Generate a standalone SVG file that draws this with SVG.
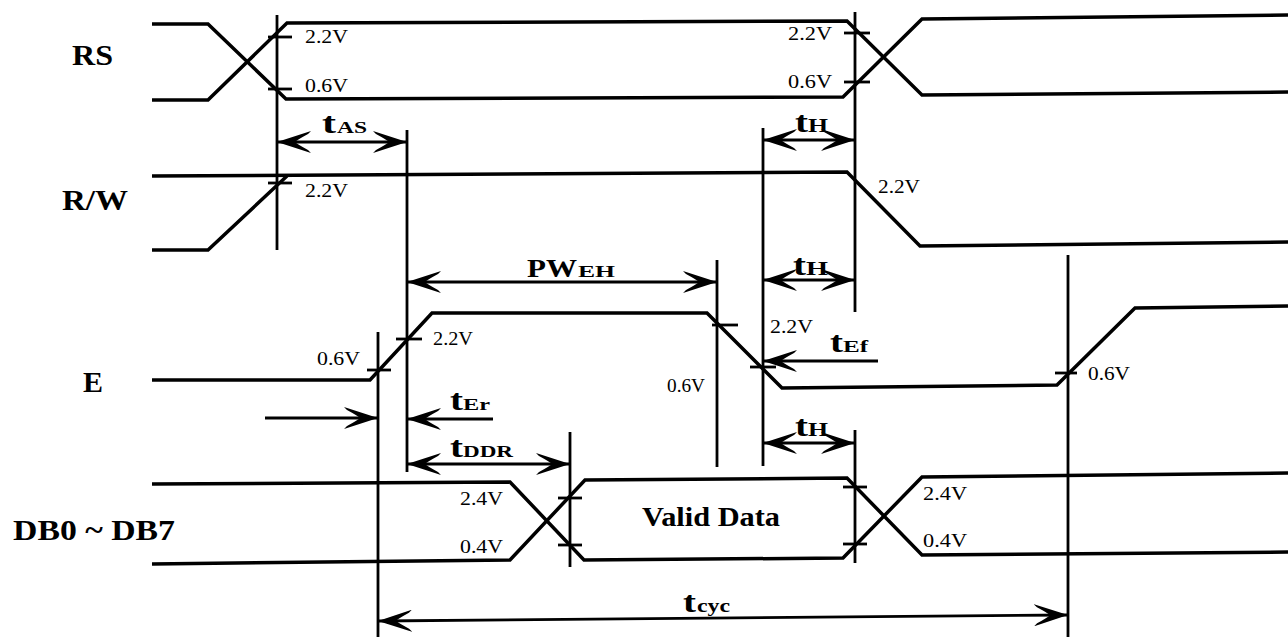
<svg xmlns="http://www.w3.org/2000/svg" width="1288" height="637" viewBox="0 0 1288 637">
<style>
.sig{fill:none;stroke:#000;stroke-width:3.5;stroke-linejoin:miter}
.vl{stroke:#000;stroke-width:2.8;fill:none}
.tk{stroke:#000;stroke-width:2.8}
.ar{stroke:#000;stroke-width:2.8;fill:none}
.lbl{font-family:"Liberation Serif","Times New Roman",serif;font-weight:bold;font-size:29px;fill:#000}
.v{font-family:"Liberation Serif","Times New Roman",serif;font-size:19px;fill:#000}
.tt{font-family:"Liberation Serif","Times New Roman",serif;font-weight:bold;font-size:30px;fill:#000}
.ts{font-family:"Liberation Serif","Times New Roman",serif;font-weight:bold;font-size:16px;fill:#000}
</style>
<defs>
<marker id="ah" viewBox="0 0 34 22" refX="34" refY="11" markerWidth="34" markerHeight="22" markerUnits="userSpaceOnUse" orient="auto-start-reverse">
<path d="M34,11 L0,0 L3,3 Q14,9 16,11 Q14,13 3,19 L0,22 Z" fill="#000"/>
</marker>
</defs>
<rect width="1288" height="637" fill="#fff"/>

<g id="RS">
<text class="lbl" x="72" y="65" textLength="41" lengthAdjust="spacingAndGlyphs">RS</text>
<polyline class="sig" points="152,24 208,24 286,99 843,97 922,19 1288,15"/>
<polyline class="sig" points="152,100 208,100 287,23 847,21 922,95 1288,92"/>
<line class="tk" x1="268" y1="37" x2="292" y2="37"/>
<line class="tk" x1="268" y1="89" x2="292" y2="89"/>
<line class="tk" x1="844" y1="33" x2="870" y2="33"/>
<line class="tk" x1="844" y1="82" x2="870" y2="82"/>
<text class="v" x="305" y="43" textLength="43" lengthAdjust="spacingAndGlyphs">2.2V</text>
<text class="v" x="305" y="92" textLength="43" lengthAdjust="spacingAndGlyphs">0.6V</text>
<text class="v" x="788" y="40" textLength="44" lengthAdjust="spacingAndGlyphs">2.2V</text>
<text class="v" x="788" y="88" textLength="44" lengthAdjust="spacingAndGlyphs">0.6V</text>
</g>

<g id="RW">
<text class="lbl" x="62" y="210" textLength="66" lengthAdjust="spacingAndGlyphs">R/W</text>
<polyline class="sig" points="152,176 847,172 920,246 1288,242"/>
<polyline class="sig" points="152,250 208,250 287,176"/>
<line class="tk" x1="268" y1="183" x2="292" y2="183"/>
<text class="v" x="305" y="197" textLength="43" lengthAdjust="spacingAndGlyphs">2.2V</text>
<text class="v" x="878" y="193" textLength="42" lengthAdjust="spacingAndGlyphs">2.2V</text>
</g>

<g id="E">
<text class="lbl" x="83" y="392" textLength="20" lengthAdjust="spacingAndGlyphs">E</text>
<polyline class="sig" points="152,380 370,380 432,313 707,313 782,388 1057,385 1135,308 1288,306"/>
<line class="tk" x1="367" y1="370" x2="391" y2="370"/>
<line class="tk" x1="396" y1="339" x2="422" y2="339"/>
<line class="tk" x1="712" y1="325" x2="738" y2="325"/>
<line class="tk" x1="750" y1="367" x2="776" y2="367"/>
<line class="tk" x1="1055" y1="373" x2="1077" y2="373"/>
<text class="v" x="317" y="365" textLength="43" lengthAdjust="spacingAndGlyphs">0.6V</text>
<text class="v" x="433" y="345" textLength="40" lengthAdjust="spacingAndGlyphs">2.2V</text>
<text class="v" x="770" y="333" textLength="43" lengthAdjust="spacingAndGlyphs">2.2V</text>
<text class="v" x="667" y="392" textLength="38" lengthAdjust="spacingAndGlyphs">0.6V</text>
<text class="v" x="1088" y="380" textLength="42" lengthAdjust="spacingAndGlyphs">0.6V</text>
</g>

<g id="DB">
<text class="lbl" x="13" y="540" textLength="162" lengthAdjust="spacingAndGlyphs">DB0 ~ DB7</text>
<polyline class="sig" points="152,484 510,482 584,560 843,558 922,477 1288,473"/>
<polyline class="sig" points="152,564 510,560 585,480 847,478 922,555 1288,552"/>
<line class="tk" x1="558" y1="498" x2="582" y2="498"/>
<line class="tk" x1="558" y1="545" x2="582" y2="545"/>
<line class="tk" x1="843" y1="487" x2="867" y2="487"/>
<line class="tk" x1="843" y1="544" x2="867" y2="544"/>
<text class="v" x="460" y="505" textLength="43" lengthAdjust="spacingAndGlyphs">2.4V</text>
<text class="v" x="460" y="553" textLength="43" lengthAdjust="spacingAndGlyphs">0.4V</text>
<text class="v" x="923" y="500" textLength="44" lengthAdjust="spacingAndGlyphs">2.4V</text>
<text class="v" x="923" y="547" textLength="44" lengthAdjust="spacingAndGlyphs">0.4V</text>
<text class="lbl" x="642" y="526" style="font-size:27px" textLength="138" lengthAdjust="spacingAndGlyphs">Valid Data</text>
</g>

<g id="connectors">
<line class="vl" x1="277" y1="15" x2="277" y2="250"/>
<line class="vl" x1="407" y1="130" x2="407" y2="472"/>
<line class="vl" x1="763" y1="128" x2="763" y2="466"/>
<line class="vl" x1="855" y1="12" x2="855" y2="312"/>
<line class="vl" x1="855" y1="430" x2="855" y2="563"/>
<line class="vl" x1="717" y1="260" x2="717" y2="467"/>
<line class="vl" x1="378" y1="332" x2="378" y2="637"/>
<line class="vl" x1="570" y1="432" x2="570" y2="567"/>
<line class="vl" x1="1068" y1="255" x2="1068" y2="637"/>

<line class="ar" x1="277" y1="142" x2="407" y2="142" marker-start="url(#ah)" marker-end="url(#ah)"/>
<line class="ar" x1="763" y1="140" x2="855" y2="140" marker-start="url(#ah)" marker-end="url(#ah)"/>
<line class="ar" x1="407" y1="282" x2="717" y2="282" marker-start="url(#ah)" marker-end="url(#ah)"/>
<line class="ar" x1="763" y1="280" x2="855" y2="280" marker-start="url(#ah)" marker-end="url(#ah)"/>
<line class="ar" x1="878" y1="361" x2="763" y2="361" marker-end="url(#ah)"/>
<line class="ar" x1="493" y1="419" x2="407" y2="419" marker-end="url(#ah)"/>
<line class="ar" x1="265" y1="418" x2="378" y2="418" marker-end="url(#ah)"/>
<line class="ar" x1="763" y1="443" x2="855" y2="443" marker-start="url(#ah)" marker-end="url(#ah)"/>
<line class="ar" x1="407" y1="464" x2="570" y2="464" marker-start="url(#ah)" marker-end="url(#ah)"/>
<line class="ar" x1="378" y1="621" x2="1068" y2="615" marker-start="url(#ah)" marker-end="url(#ah)"/>

<text class="tt" x="322" y="133" textLength="14" lengthAdjust="spacingAndGlyphs">t</text><text class="ts" x="337" y="133" textLength="30" lengthAdjust="spacingAndGlyphs">AS</text>
<text class="tt" x="795" y="132" textLength="13" lengthAdjust="spacingAndGlyphs">t</text><text class="ts" x="808" y="132" style="font-size:19px" textLength="20" lengthAdjust="spacingAndGlyphs">H</text>
<text class="tt" x="527" y="277" style="font-size:26px" textLength="50" lengthAdjust="spacingAndGlyphs">PW</text><text class="ts" x="578" y="277" textLength="37" lengthAdjust="spacingAndGlyphs">EH</text>
<text class="tt" x="793" y="275" textLength="13" lengthAdjust="spacingAndGlyphs">t</text><text class="ts" x="806" y="275" style="font-size:19px" textLength="22" lengthAdjust="spacingAndGlyphs">H</text>
<text class="tt" x="830" y="352" textLength="13" lengthAdjust="spacingAndGlyphs">t</text><text class="ts" x="843" y="352" textLength="25" lengthAdjust="spacingAndGlyphs">Ef</text>
<text class="tt" x="450" y="410" textLength="13" lengthAdjust="spacingAndGlyphs">t</text><text class="ts" x="463" y="410" textLength="27" lengthAdjust="spacingAndGlyphs">Er</text>
<text class="tt" x="795" y="436" textLength="13" lengthAdjust="spacingAndGlyphs">t</text><text class="ts" x="808" y="436" style="font-size:19px" textLength="20" lengthAdjust="spacingAndGlyphs">H</text>
<text class="tt" x="450" y="457" textLength="13" lengthAdjust="spacingAndGlyphs">t</text><text class="ts" x="463" y="457" textLength="50" lengthAdjust="spacingAndGlyphs">DDR</text>
<text class="tt" x="683" y="612" textLength="13" lengthAdjust="spacingAndGlyphs">t</text><text class="ts" x="697" y="612" style="font-size:18px" textLength="33" lengthAdjust="spacingAndGlyphs">cyc</text>
</g>
</svg>
